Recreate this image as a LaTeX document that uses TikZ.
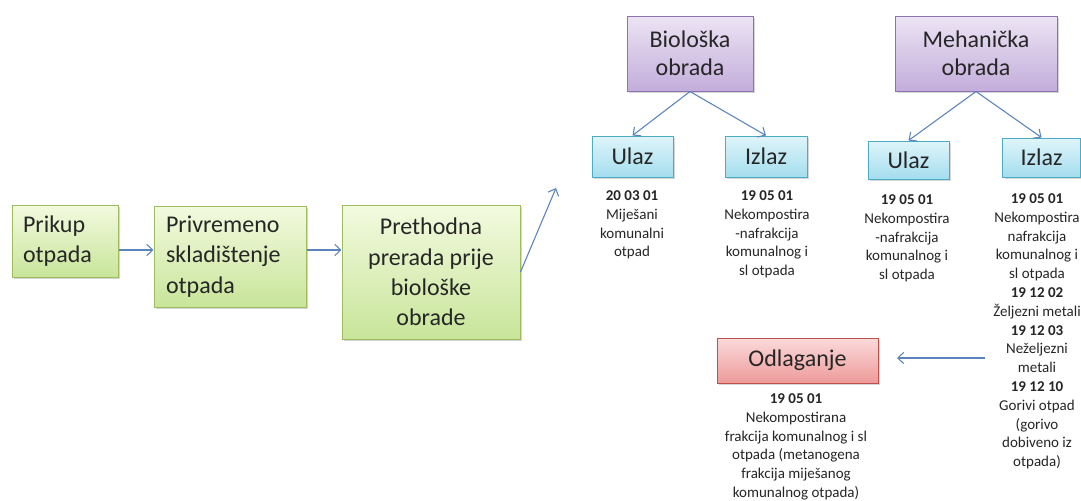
\documentclass[tikz,border=0pt]{standalone}
\usepackage{fontspec}
\setmainfont{Carlito}
\usetikzlibrary{arrows.meta,shadows,calc}
\definecolor{txt}{HTML}{262626}
\definecolor{grT}{HTML}{F3FADF}
\definecolor{grB}{HTML}{C8E59A}
\definecolor{grD}{HTML}{9DBC5E}
\definecolor{puT}{HTML}{ECE4F4}
\definecolor{puB}{HTML}{C3ADDB}
\definecolor{puD}{HTML}{8E72B0}
\definecolor{cyT}{HTML}{DFF5FA}
\definecolor{cyB}{HTML}{A4DDEE}
\definecolor{cyD}{HTML}{4BACC6}
\definecolor{reT}{HTML}{FBDADA}
\definecolor{reB}{HTML}{EE9A9A}
\definecolor{reD}{HTML}{C0504D}
\definecolor{arr}{HTML}{5B84BC}
\tikzset{
  box/.style={draw, line width=0.75pt, inner sep=0pt, text=txt,
    font=\fontsize{18}{22.7}\selectfont,
    drop shadow={shadow xshift=1.5pt,shadow yshift=-1.5pt,fill=black,opacity=0.16}},
  greenbox/.style={box, draw=grD, top color=grT, bottom color=grB},
  purplebox/.style={box, draw=puD, top color=puT, bottom color=puB,
    font=\fontsize{18}{21}\selectfont, align=center},
  cyanbox/.style={box, draw=cyD, top color=cyT, bottom color=cyB},
  redbox/.style={box, draw=reD, top color=reT, bottom color=reB},
  note/.style={font=\fontsize{11.25}{14.1}\selectfont, text=txt, align=center,
    inner sep=0pt, anchor=north},
  conn/.style={draw=arr, line width=0.8pt, -{Straight Barb[length=4.5pt,width=8.5pt]}}
}
\begin{document}
\begin{tikzpicture}[x=0.75pt,y=-0.75pt]
\useasboundingbox (0,0) rectangle (1081,500);
\fill[white] (0,0) rectangle (1081,500);

% flow boxes
\node[greenbox, minimum width=79.5pt, minimum height=54pt, text width=63pt, align=left]
  (prikup) at (65,241) {Prikup\\otpada};
\node[greenbox, minimum width=114pt, minimum height=75.75pt, text width=96pt, align=left]
  (privremeno) at (230,256.5) {Privremeno\\skladištenje\\otpada};
\node[greenbox, minimum width=133.5pt, minimum height=100.5pt, align=center]
  (prethodna) at (431,272) {Prethodna\\prerada prije\\biološke\\obrade};

\node[purplebox, minimum width=94.5pt, minimum height=56.25pt] (biol) at (690,53.5) {Biološka\\obrada};
\node[purplebox, minimum width=121.5pt, minimum height=56.25pt] (meh) at (976,53.5) {Mehanička\\obrada};

\node[cyanbox, minimum width=60.75pt, minimum height=30.75pt] (ulaz1) at (632.5,156.5) {Ulaz};
\node[cyanbox, minimum width=61.5pt, minimum height=30.75pt] (izlaz1) at (766,156.5) {Izlaz};
\node[cyanbox, minimum width=60.75pt, minimum height=28.5pt] (ulaz2) at (908.5,160) {Ulaz};
\node[cyanbox, minimum width=58.5pt, minimum height=29.25pt] (izlaz2) at (1041.5,157.5) {Izlaz};

\node[redbox, minimum width=120.75pt, minimum height=33.75pt] (odl) at (797.5,360.5) {Odlaganje};

% notes
\node[note] (n1) at (632,190.3) {\textbf{20 03 01}\\Miješani\\komunalni\\otpad};
\node[note] (n2) at (767,190.3) {\textbf{19 05 01}\\Nekompostira\\-nafrakcija\\komunalnog i\\sl otpada};
\node[note] (n3) at (907,194.3) {\textbf{19 05 01}\\Nekompostira\\-nafrakcija\\komunalnog i\\sl otpada};
\node[note] (n4) at (1037,193.3) {\textbf{19 05 01}\\Nekompostira\\nafrakcija\\komunalnog i\\sl otpada\\\textbf{19 12 02}\\Željezni metali\\\textbf{19 12 03}\\Neželjezni\\metali\\\textbf{19 12 10}\\Gorivi otpad\\(gorivo\\dobiveno iz\\otpada)};
\node[note] (n5) at (796,393.3) {\textbf{19 05 01}\\Nekompostirana\\frakcija komunalnog i sl\\otpada (metanogena\\frakcija miješanog\\komunalnog otpada)};

% connectors
\coordinate (row) at (0,250);
\coordinate (diagtip) at (556,188);
\coordinate (lstart) at (985,358);
\coordinate (lend) at (897,358);
\draw[conn] (prikup.east |- row) -- (privremeno.west |- row);
\draw[conn] (privremeno.east |- row) -- (prethodna.west |- row);
\draw[conn] (prethodna.east) -- (diagtip);
\draw[conn] (biol.south) -- (ulaz1.north);
\draw[conn] (biol.south) -- (izlaz1.north);
\draw[conn] (meh.south) -- (ulaz2.north);
\draw[conn] (meh.south) -- (izlaz2.north);
\draw[conn] (lstart) -- (lend);
\end{tikzpicture}
\end{document}
